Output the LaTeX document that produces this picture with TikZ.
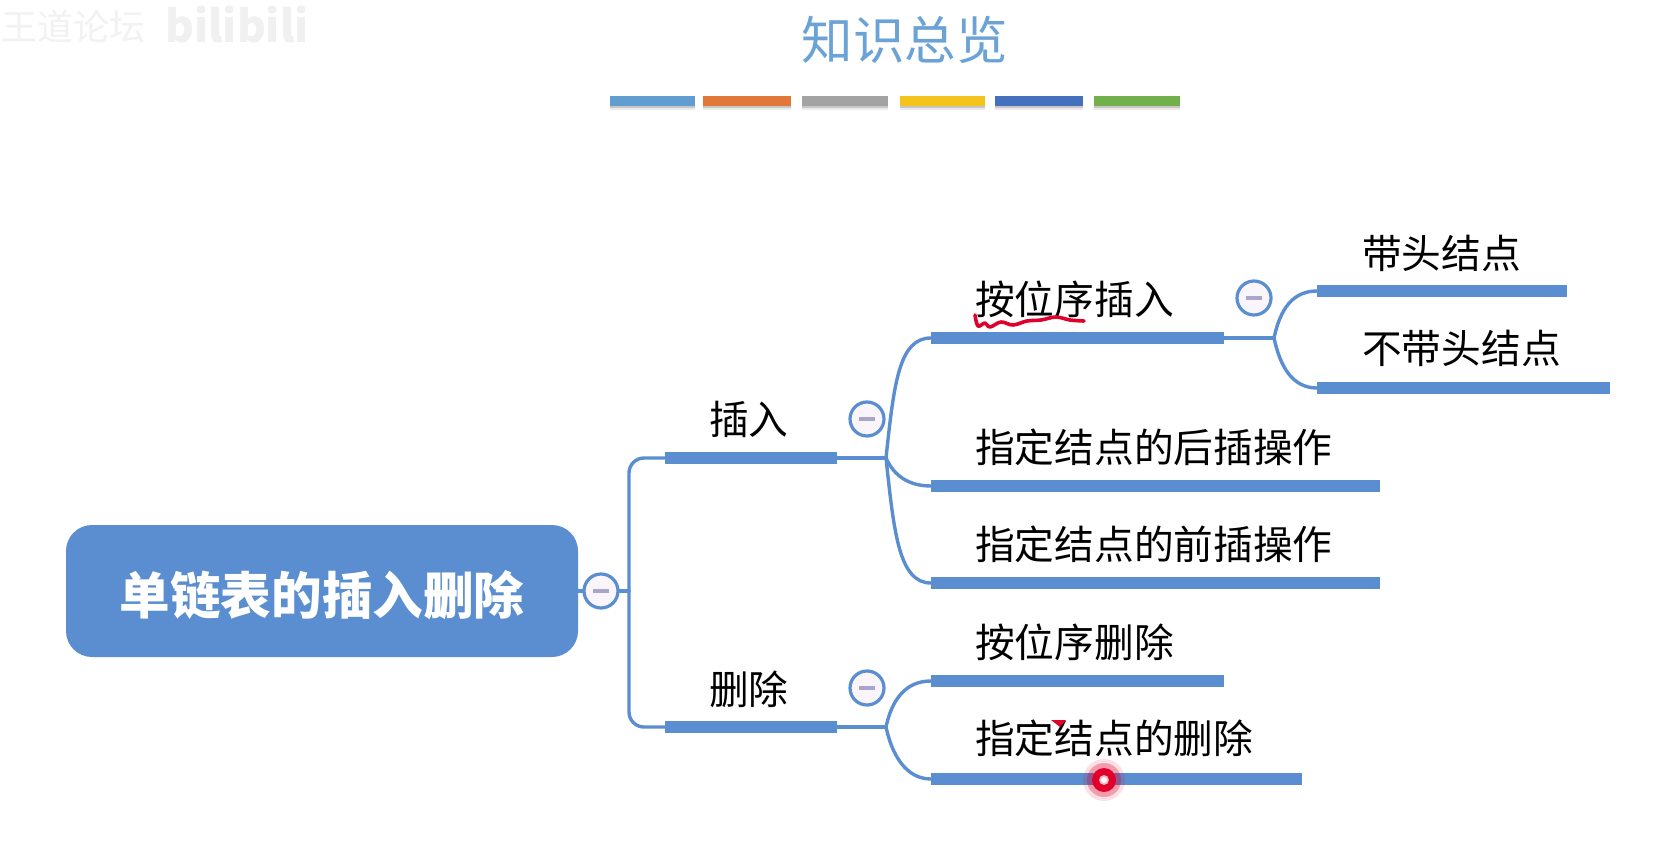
\documentclass[tikz,border=0pt]{standalone}
\usepackage{fontspec}
\setmainfont{Noto Sans CJK SC}
\definecolor{mapblue}{HTML}{5B8ED0}
\definecolor{minusc}{HTML}{A9A6C9}
\definecolor{titleblue}{HTML}{6BA3D6}
\definecolor{laser}{HTML}{E0002B}
\definecolor{swA}{HTML}{629DD1}
\definecolor{swB}{HTML}{DF7839}
\definecolor{swC}{HTML}{A3A3A3}
\definecolor{swD}{HTML}{F4C31C}
\definecolor{swE}{HTML}{4470BE}
\definecolor{swF}{HTML}{72B04B}
\tikzset{
  x=1pt,y=-1pt,
  bar/.style={draw=none,fill=mapblue,rectangle,anchor=west,inner sep=0pt,minimum height=12pt},
  lab/.style={anchor=west,inner sep=0pt,text=black,font=\fontsize{39.7}{40}\selectfont},
  link/.style={draw=mapblue,line width=3.4pt,line cap=round},
  fold/.style={circle,draw=mapblue,line width=3.2pt,fill=white!96!violet,minimum size=34pt,inner sep=0pt},
  minusbar/.style={draw=minusc,line width=3.6pt},
  swatch/.style={rectangle,anchor=west,inner sep=0pt,minimum height=10pt},
}
\newcommand{\swatchshadow}[2]{\fill[black!8] (#1,106) rectangle (#2,110);\fill[black!22] (#1,106) rectangle (#2,108);}
\begin{document}
\begin{tikzpicture}
\useasboundingbox (0,0) rectangle (1675,861);
\fill[white] (0,0) rectangle (1675,861);
% faint watermark
\node[anchor=west,inner sep=0pt,text=black!5,font=\fontsize{36}{36}\selectfont] (wm1) at (1,27) {王道论坛};
\node[anchor=west,inner sep=0pt,text=black!6,font=\bfseries\fontsize{44}{44}\selectfont] (wm2) at (165,25) {bilibili};
% title
\node[inner sep=0pt,text=titleblue,font=\fontsize{51.5}{52}\selectfont] (title) at (904.5,40) {知识总览};
% colour strip
\swatchshadow{610}{695}\swatchshadow{703}{791}\swatchshadow{802}{888}\swatchshadow{900}{985}\swatchshadow{995}{1083}\swatchshadow{1094}{1180}
\node[swatch,fill=swA,minimum width=85pt] (s1) at (610,101.5) {};
\node[swatch,fill=swB,minimum width=88pt] (s2) at (703,101.5) {};
\node[swatch,fill=swC,minimum width=86pt] (s3) at (802,101.5) {};
\node[swatch,fill=swD,minimum width=85pt] (s4) at (900,101.5) {};
\node[swatch,fill=swE,minimum width=88pt] (s5) at (995,101.5) {};
\node[swatch,fill=swF,minimum width=86pt] (s6) at (1094,101.5) {};
% root
\node[rectangle,rounded corners=26pt,fill=mapblue,inner sep=0pt,minimum width=512pt,minimum height=132pt] (root) at (322,591) {};
\node[inner sep=0pt,text=white,font=\bfseries\fontsize{50.6}{52}\selectfont] (roottext) at (322,595) {单链表的插入删除};
% bars
\node[bar,minimum width=172pt] (ins) at (665,458) {};
\node[bar,minimum width=172pt] (del) at (665,727) {};
\node[bar,minimum width=293pt] (pos) at (931,338) {};
\node[bar,minimum width=449pt] (aft) at (931,486) {};
\node[bar,minimum width=449pt] (bef) at (931,583) {};
\node[bar,minimum width=293pt] (pdel) at (931,681) {};
\node[bar,minimum width=371pt] (ndel) at (931,779) {};
\node[bar,minimum width=250pt] (head) at (1317,291) {};
\node[bar,minimum width=293pt] (nohead) at (1317,388) {};
% labels
\node[lab] (lins) at (709,419) {插入};
\node[lab] (ldel) at (709,689) {删除};
\node[lab] (lpos) at (975,299) {按位序插入};
\node[lab] (laft) at (975,447) {指定结点的后插操作};
\node[lab] (lbef) at (975,544) {指定结点的前插操作};
\node[lab] (lpdel) at (975,642) {按位序删除};
\node[lab] (lndel) at (975,738) {指定结点的删除};
\node[lab] (lhead) at (1362,253) {带头结点};
\node[lab] (lnohead) at (1362,348) {不带头结点};
% junctions
\coordinate (spine) at (629,591);
\coordinate (spineT) at (629,458);
\coordinate (spineB) at (629,727);
\coordinate (j1) at (886,458);
\coordinate (j2) at (886,727);
\coordinate (j3) at (1274,338);
% connectors
\draw[link,rounded corners=15pt] (ins.west) -- (spineT) -- (spineB) -- (del.west);
\draw[link] (ins.east) -- (j1);
\draw[link] (del.east) -- (j2);
\draw[link] (pos.east) -- (j3);
\draw[link] (j1) .. controls +(8,-75) and +(-32,0) .. (pos.west);
\draw[link] (j1) .. controls +(8,18) and +(-22,0) .. (aft.west);
\draw[link] (j1) .. controls +(8,75) and +(-32,0) .. (bef.west);
\draw[link] (j2) .. controls +(6,-28) and +(-25,0) .. (pdel.west);
\draw[link] (j2) .. controls +(6,28) and +(-25,0) .. (ndel.west);
\draw[link] (j3) .. controls +(6,-28) and +(-25,0) .. (head.west);
\draw[link] (j3) .. controls +(6,28) and +(-25,0) .. (nohead.west);
% fold markers
\node[fold] (f0) at (601,591) {};
\node[fold] (f1) at (867,419) {};
\node[fold] (f2) at (867,688) {};
\node[fold] (f3) at (1254,298) {};
\draw[link] (root.east) -- (f0.west);
\draw[link] (f0.east) -- (spine);
\foreach \c in {f0,f1,f2,f3}{\draw[minusbar] (\c.center) +(-8,0) -- +(8,0);}
% handwritten marks
\draw[laser,line width=3.6pt,line cap=round,line join=round] plot[smooth,tension=.6] coordinates {(975,315) (978,326) (985,323) (990,327) (1001,322) (1013,325) (1027,321) (1041,320) (1056,317) (1070,320) (1084,321)};
\fill[laser] (1051,720) -- (1066,720) -- (1060,727) -- cycle;
\fill[laser,opacity=.12] (1104,780) circle (21pt);
\fill[laser,opacity=.3] (1104,780) circle (17pt);
\fill[laser] (1104,780) circle (12pt);
\fill[white!70!laser] (1104,780) circle (5pt);
\fill[white] (1104,780) circle (3pt);
\end{tikzpicture}
\end{document}
